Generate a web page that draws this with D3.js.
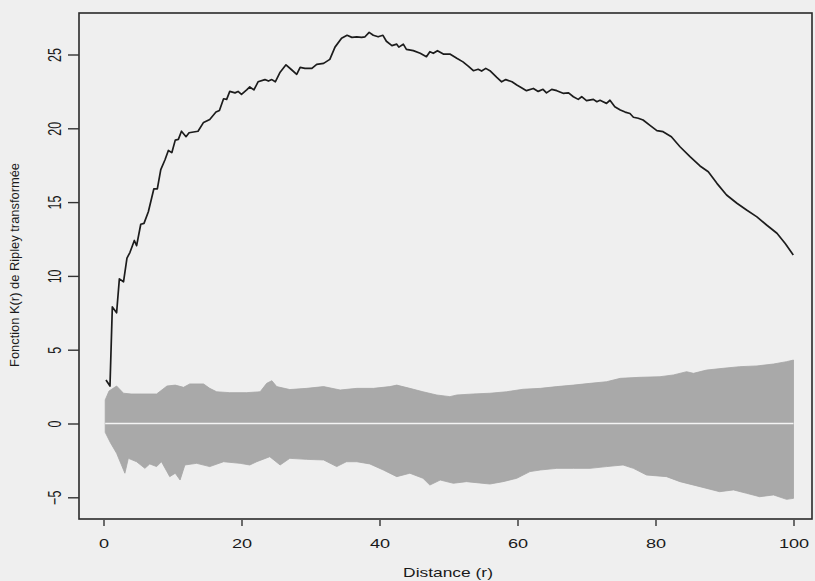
<!DOCTYPE html>
<html>
<head>
<meta charset="utf-8">
<script src="https://cdn.jsdelivr.net/npm/d3@7"></script>
<style>
html,body{margin:0;padding:0;background:#efefef;}
svg{display:block;}
</style>
</head>
<body>
<svg id="chart" width="815" height="581"></svg>
<script>
// ---- Data ----
const xTicks = [0, 20, 40, 60, 80, 100];
const yTicks = [-5, 0, 5, 10, 15, 20, 25];
const xLabel = "Distance (r)";
const yLabel = "Fonction K(r) de Ripley transformée";

// Observed transformed Ripley K (L-function) curve
const curveR = [0.36,0.94,1.28,1.9,2.3,2.9,3.4,3.84,4.47,4.8,5.4,5.87,6.5,7.3,7.8,8.3,8.9,9.4,9.9,10.4,10.85,11.3,11.96,12.4,13.7,14.5,15.4,16.3,16.8,17.4,17.85,18.3,19.06,19.5,20.0,20.75,21.2,21.8,22.4,23.4,23.9,24.4,24.9,25.6,26.45,27.3,28.0,28.5,29.2,30.2,30.9,31.9,32.8,33.55,34.5,35.3,36.0,36.7,37.4,37.9,38.5,39.1,39.8,40.5,41.0,41.8,42.5,42.8,43.45,43.9,44.9,45.9,46.8,47.3,47.8,48.4,49.25,50.2,51.2,52.1,52.9,53.6,54.3,54.8,55.4,56.0,57.0,57.7,58.3,59.2,59.9,60.4,61.3,62.3,63.0,63.7,64.2,64.96,65.7,66.6,67.4,68.1,68.8,69.3,70.0,71.0,71.5,71.96,72.4,72.9,73.4,74.1,74.9,75.6,76.3,76.8,77.5,78.2,79.2,80.2,81.1,82.3,83.55,85.0,86.45,87.65,88.9,90.3,91.8,93.2,94.7,96.1,97.6,98.8,99.97];
const curveK = [2.95,2.54,7.9,7.5,9.8,9.6,11.2,11.6,12.4,12.05,13.5,13.56,14.35,15.9,15.9,17.2,17.85,18.5,18.35,19.2,19.25,19.8,19.43,19.7,19.8,20.4,20.6,21.1,21.2,22.0,21.96,22.5,22.4,22.5,22.3,22.6,22.8,22.6,23.15,23.3,23.2,23.3,23.15,23.8,24.3,23.95,23.66,24.13,24.06,24.06,24.33,24.4,24.67,25.5,26.1,26.3,26.16,26.2,26.16,26.2,26.5,26.3,26.2,26.3,25.9,25.6,25.7,25.5,25.7,25.35,25.26,25.08,24.85,25.19,25.08,25.26,25.03,25.03,24.74,24.5,24.2,23.9,24.0,23.88,24.06,23.9,23.45,23.15,23.3,23.15,22.93,22.8,22.55,22.7,22.5,22.64,22.4,22.64,22.55,22.37,22.4,22.14,21.96,22.14,21.87,21.96,21.8,21.9,21.8,21.69,21.9,21.46,21.24,21.1,21.0,20.75,20.68,20.56,20.2,19.84,19.77,19.43,18.75,18.08,17.45,17.06,16.27,15.48,14.92,14.46,14.0,13.45,12.89,12.2,11.42];

// Simulation envelope (upper and lower bounds)
const upperR = [0.25,0.8,1.9,2.9,4,5.3,7.7,9.2,10.4,11.6,12.5,14.5,15.4,16.4,18.3,20.75,22.7,23.65,24.4,25.1,27.0,29.45,31.9,34.3,36.7,39.1,41.5,42.5,44.4,46.3,48.3,50.2,51.2,53.6,56,58.4,60.8,63.3,65.7,68.1,70.5,72.9,74.9,77.75,80.65,82.6,84.5,85.5,87.4,89.8,92.2,94.7,97.1,99.0,100];
const upperV = [1.6,2.2,2.54,2.05,2.0,2.0,2.0,2.54,2.6,2.45,2.68,2.68,2.38,2.15,2.09,2.09,2.15,2.72,2.9,2.5,2.3,2.38,2.5,2.27,2.38,2.38,2.5,2.6,2.38,2.15,1.93,1.82,1.93,2.0,2.05,2.15,2.32,2.38,2.5,2.6,2.72,2.83,3.06,3.13,3.17,3.29,3.51,3.4,3.62,3.74,3.85,3.9,4.03,4.19,4.3];
const lowerR = [0.25,1.0,1.9,3.1,3.6,4.8,6.0,6.7,7.7,8.4,9.6,10.4,11.1,11.8,13.5,15.4,17.4,19.8,21.2,22.2,24.1,25.6,27.0,29.45,31.9,33.8,35.2,36.7,38.6,40.55,42.5,44.4,46.3,47.3,48.8,50.7,52.6,56.0,57.9,59.9,61.8,63.3,65.7,68.1,70.5,72.9,75.3,76.8,78.7,81.6,83.55,86.45,89.3,91.3,93.2,95.1,97.1,99.0,100];
const lowerV = [-0.6,-1.3,-2.02,-3.37,-2.36,-2.59,-3.04,-2.74,-2.92,-2.59,-3.6,-3.37,-3.83,-2.81,-2.7,-2.92,-2.59,-2.7,-2.81,-2.59,-2.25,-2.81,-2.36,-2.43,-2.47,-2.92,-2.59,-2.59,-2.74,-3.15,-3.6,-3.37,-3.71,-4.17,-3.83,-4.05,-3.94,-4.1,-3.94,-3.71,-3.26,-3.15,-3.04,-3.04,-3.04,-2.92,-2.81,-3.04,-3.49,-3.6,-3.94,-4.28,-4.62,-4.5,-4.73,-4.96,-4.84,-5.14,-5.07];

// Reference (expected under CSR) line
const refR = [0.25, 100];
const refV = [0, 0];

// ---- Drawing ----
const svg = d3.select("#chart");
svg.append("rect").attr("width", 815).attr("height", 581).attr("fill", "#efefef");

const x = d3.scaleLinear().domain([0, 100]).range([103.5, 793.5]);
const y = d3.scaleLinear().domain([0, 25]).range([423.5, 54.5]);

const box = {left: 79, top: 13, right: 812, bottom: 519};
const FONT = "'Liberation Sans', Arial, Helvetica, sans-serif";

// envelope polygon
const envPts = upperR.map((r, i) => [r, upperV[i]])
  .concat(lowerR.map((r, i) => [r, lowerV[i]]).reverse());
svg.append("path")
  .attr("d", d3.line().x(d => x(d[0])).y(d => y(d[1]))(envPts) + "Z")
  .attr("fill", "#a9a9a9")
  .attr("stroke", "#a4a4a4")
  .attr("stroke-width", 0.8);

// zero line
svg.append("path")
  .attr("d", d3.line().x((d, i) => x(refR[i])).y((d, i) => y(refV[i]))(refR))
  .attr("stroke", "#f4f4f4").attr("stroke-width", 1.6).attr("fill", "none");

// observed curve
svg.append("path")
  .attr("d", d3.line().x((d, i) => x(curveR[i])).y((d, i) => y(curveK[i]))(curveR))
  .attr("stroke", "#1c1c1c").attr("stroke-width", 1.7)
  .attr("stroke-linejoin", "round").attr("fill", "none");

// frame
svg.append("rect")
  .attr("x", box.left).attr("y", box.top)
  .attr("width", box.right - box.left).attr("height", box.bottom - box.top)
  .attr("fill", "none").attr("stroke", "#2a2a2a").attr("stroke-width", 1.6);

// x axis
const gx = svg.append("g").attr("transform", `translate(0,${box.bottom + 1})`)
  .call(d3.axisBottom(x).tickValues(xTicks).tickSize(6).tickFormat(d3.format("d")));
gx.select(".domain").remove();
gx.selectAll(".tick line").attr("stroke", "#333").attr("stroke-width", 1.4);
gx.selectAll(".tick text")
  .attr("y", null).attr("dy", null)
  .attr("transform", "translate(0,28) scale(1.45,1)")
  .attr("text-anchor", "middle")
  .attr("fill", "#1a1a1a")
  .style("font-family", FONT).style("font-size", "12.5px");

// y axis
const gy = svg.append("g").attr("transform", `translate(${box.left},0)`)
  .call(d3.axisLeft(y).tickValues(yTicks).tickSize(11).tickFormat(d3.format("d")));
gy.select(".domain").remove();
gy.selectAll(".tick line").attr("stroke", "#333").attr("stroke-width", 1.4);
gy.selectAll(".tick text")
  .attr("x", null).attr("dy", null)
  .attr("transform", "translate(-18,0) scale(1.45,1) rotate(-90)")
  .attr("text-anchor", "middle")
  .attr("fill", "#1a1a1a")
  .style("font-family", FONT).style("font-size", "12.5px");

// axis titles
svg.append("text")
  .attr("transform", "translate(448,577) scale(1.45,1)")
  .attr("text-anchor", "middle")
  .attr("fill", "#1a1a1a")
  .style("font-family", FONT).style("font-size", "12px")
  .text(xLabel);

svg.append("text")
  .attr("transform", "translate(19,265) scale(1.15,1) rotate(-90)")
  .attr("text-anchor", "middle")
  .attr("textLength", 204).attr("lengthAdjust", "spacingAndGlyphs")
  .attr("fill", "#1a1a1a")
  .style("font-family", FONT).style("font-size", "11px")
  .text(yLabel);
</script>
</body>
</html>
